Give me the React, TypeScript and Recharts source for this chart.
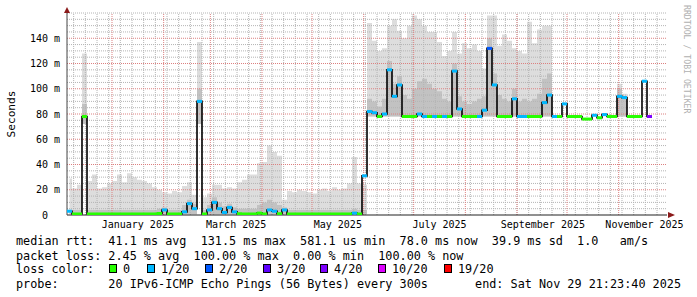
import React from 'react';
import { ComposedChart, Area, Line, Scatter, XAxis, YAxis, ReferenceLine, ReferenceDot } from 'recharts';

const MONO = '"DejaVu Sans Mono", monospace';

// 3-day buckets, x = bucket centre in days since 1 Jan 2025
const startDay = -25.5;
const stepDays = 3;

// median rtt per bucket (ms)
const median = [
  3, 0.8, 0.8, 78, 0.8, 0.8, 0.8, 0.8, 0.8, 0.8,
  0.8, 0.8, 0.8, 0.8, 0.8, 0.8, 0.8, 0.8, 1.2, 4,
  0.8, 0.8, 0.8, 2.5, 9, 5, 90, 0.8, 4, 10,
  5, 2, 6, 2.5, 1, 0.8, 0.8, 0.8, 1.5, 0.8,
  4, 3, 1, 4, 0.8, 0.8, 0.8, 0.8, 0.8, 0.8,
  0.8, 0.8, 0.8, 0.8, 0.8, 0.8, 0.8, 1.5, 0.8, 31,
  82, 81, 78, 80, 115, 94, 103, 78, 78, 78,
  80, 78, 78, 78, 78, 78, 78, 114, 84, 78,
  78, 78, 78, 83, 132, 103, 78, 78, 78, 92,
  78, 78, 78, 78, 78, 89, 95, 78, 78, 88,
  78, 78, 78, 76, 76, 79, 77, 79.5, 78, 78,
  94, 93, 78, 78, 78, 106, 78,
];

// loss bucket per sample (index into lossLabels)
const loss = [
  1, 0, 0, 0, 0, 0, 0, 0, 0, 0,
  0, 0, 0, 0, 0, 0, 0, 0, 0, 1,
  0, 0, 0, 1, 1, 1, 1, 0, 1, 1,
  1, 1, 1, 1, 0, 0, 0, 0, 0, 0,
  1, 1, 0, 1, 0, 0, 0, 0, 0, 0,
  0, 0, 0, 0, 0, 0, 0, 1, 0, 1,
  1, 1, 0, 1, 1, 1, 1, 0, 0, 0,
  1, 1, 0, 1, 0, 1, 0, 1, 1, 0,
  0, 0, 1, 1, 2, 1, 0, 0, 0, 1,
  1, 1, 0, 0, 0, 1, 1, 1, 0, 1,
  0, 0, 0, 0, 0, 1, 0, 1, 0, 0,
  1, 1, 0, 0, 0, 1, 4,
];

// smoke: lowest ping, upper edge of the dense part, highest ping (ms)
const smokeLo = [
  0.6, 0.6, 0.6, 72, 0.6, 0.6, 0.6, 0.6, 0.6, 0.6,
  0.6, 0.6, 0.6, 0.6, 0.6, 0.6, 0.6, 0.6, 0.6, 0.6,
  0.6, 0.6, 0.6, 0.6, 0.6, 0.6, 72, 0.6, 0.6, 0.6,
  0.6, 0.6, 0.6, 0.6, 0.6, 0.6, 0.6, 0.6, 0.6, 0.6,
  0.6, 0.6, 0.6, 0.6, 0.6, 0.6, 0.6, 0.6, 0.6, 0.6,
  0.6, 0.6, 0.6, 0.6, 0.6, 0.6, 0.6, 0.6, 0.6, 0.6,
  78, 78, 78, 78, 78, 78, 78, 78, 78, 78,
  78, 78, 78, 78, 78, 78, 78, 78, 78, 78,
  78, 78, 78, 78, 78, 78, 78, 78, 78, 78,
  78, 78, 78, 78, 78, 78, 78, 78, 78, 78,
  78, 78, 78, 78, 78, 78, 78, 78, 78, 78,
  78, 78, 78, 78, 78, 78, 78,
];

const smokeMid = [
  4, 4, 4, 88, 4, 4, 4, 4, 4, 4,
  4, 4, 4, 4, 4, 4, 4, 4, 5, 6,
  4, 4, 4, 8, 12, 9, 100, 4, 8, 14,
  10, 7, 9, 6, 5, 5, 5, 5, 8, 10,
  12, 10, 8, 6, 4, 4, 4, 4, 4, 4,
  4, 4, 4, 4, 4, 4, 4, 5, 4, 4,
  92, 90, 86, 92, 122, 104, 110, 95, 92, 100,
  106, 108, 104, 100, 98, 92, 90, 120, 94, 90,
  88, 90, 92, 94, 140, 112, 95, 92, 90, 100,
  90, 92, 90, 92, 96, 108, 112, 78, 78, 78,
  78, 78, 78, 78, 78, 78, 78, 78, 78, 78,
  100, 94, 78, 78, 78, 78, 78,
];

const smokeHi = [
  29, 21, 24, 128, 27, 32, 21, 22, 25, 27,
  32, 26, 33, 30, 28, 27, 25, 22, 20, 18,
  17, 19, 18, 23, 26, 16, 137, 14, 17, 24,
  24, 21, 22, 21, 26, 28, 32, 32, 41, 42,
  55, 50, 47, 12, 19, 18, 20, 19, 18, 17,
  20, 21, 19, 22, 20, 21, 25, 46, 25, 24,
  152, 138, 130, 132, 150, 155, 146, 140, 150, 158,
  155, 150, 145, 145, 137, 126, 130, 145, 128, 136,
  132, 135, 130, 116, 158, 158, 134, 143, 138, 132,
  130, 128, 153, 136, 147, 150, 150, 78, 78, 78,
  78, 78, 78, 78, 78, 78, 78, 78, 78, 78,
  104, 96, 78, 78, 78, 78, 78,
];

const lossLabels = ['0', '1/20', '2/20', '3/20', '4/20', '10/20', '19/20'];
const lossColors = ['#26ff00', '#00b8ff', '#0059ff', '#5e00ff', '#7e00ff', '#dd00ff', '#ff0000'];

const monthStarts = [0, 31, 59, 90, 120, 151, 181, 212, 243, 273, 304];
const monthLabels = ['January 2025', 'March 2025', 'May 2025', 'July 2025', 'September 2025', 'November 2025'];
const labelDays = [15.5, 74.5, 135.5, 196.5, 258.5, 319.5];
const yTicks = [0, 20, 40, 60, 80, 100, 120, 140];
const yMinor = [5, 10, 15, 25, 30, 35, 45, 50, 55, 65, 70, 75, 85, 90, 95, 105, 110, 115, 125, 130, 135, 145, 150, 155, 160];
const mondays = Array.from({ length: 51 }, (_, k) => -23 + 7 * k);

const data = median.map((m, i) => ({
  x: startDay + stepDays * i,
  med: m,
  loss: loss[i],
  outer: [smokeLo[i], smokeHi[i]],
  inner: [smokeLo[i], smokeMid[i]],
}));

const legendBoxX = [109, 147, 205, 263, 320, 378, 444];
const legendTextX = [123, 161, 219, 277, 334, 392, 458];

const XTick = (p: any) => (
  <text x={p.x} y={p.y + 12.5} textAnchor="middle" fontFamily={MONO} fontSize={10} fill="#000">
    {monthLabels[p.index]}
  </text>
);

const YTick = (p: any) => {
  const v = p.payload.value;
  return v === 0 ? (
    <text x={p.x - 25} y={p.y + 3.6} textAnchor="start" fontFamily={MONO} fontSize={10} fill="#000">0</text>
  ) : (
    <text x={p.x - 7} y={p.y + 3.6} textAnchor="end" fontFamily={MONO} fontSize={10} fill="#000" style={{ whiteSpace: 'pre' }}>
      {`${v} m`}
    </text>
  );
};

const Dash = (p: any) => (
  <rect x={p.cx - 2.5} y={p.cy - 1.5} width={5} height={3} fill={lossColors[p.payload.loss]} />
);

export default function App() {
  const txt = { fontFamily: MONO, fontSize: 11.8, fill: '#000', style: { whiteSpace: 'pre' as const } };
  return (
    <div style={{ position: 'absolute', left: 0, top: 0, width: 697, height: 297, background: '#fff' }}>
      <ComposedChart width={697} height={297} data={data} margin={{ top: 13, right: 30, bottom: 62, left: 0 }}>
        <XAxis
          type="number"
          dataKey="x"
          domain={[-27, 333]}
          ticks={labelDays}
          interval={0}
          tickSize={0}
          tickMargin={0}
          tickLine={false}
          axisLine={{ stroke: '#222' }}
          tick={XTick}
          height={20}
          allowDataOverflow
        />
        <YAxis
          type="number"
          domain={[0, 160]}
          ticks={yTicks}
          interval={0}
          tickSize={0}
          tickMargin={0}
          tickLine={false}
          axisLine={{ stroke: '#444' }}
          tick={YTick}
          width={67}
          allowDataOverflow
        />
        <Area type="step" dataKey="outer" stroke="none" fill="#dddddd" fillOpacity={1} isAnimationActive={false} />
        <Area type="step" dataKey="inner" stroke="none" fill="#c2c2c2" fillOpacity={1} isAnimationActive={false} />
        {yMinor.map((v) => (
          <ReferenceLine key={`ym${v}`} y={v} stroke="#b4b4b4" strokeDasharray="1 1" />
        ))}
        {mondays.map((d) => (
          <ReferenceLine key={`w${d}`} x={d} stroke="#b4b4b4" strokeDasharray="1 1" />
        ))}
        {yTicks.filter((v) => v > 0).map((v) => (
          <ReferenceLine key={`yM${v}`} y={v} stroke="#dc8080" strokeDasharray="1 1" />
        ))}
        {monthStarts.map((d) => (
          <ReferenceLine key={`m${d}`} x={d} stroke="#dc8080" strokeDasharray="1 1" />
        ))}
        <Line type="step" dataKey="med" stroke="#000" strokeWidth={1.6} dot={false} isAnimationActive={false} />
        <Scatter dataKey="med" shape={Dash} isAnimationActive={false} />
        <ReferenceDot
          x={333}
          y={0}
          r={0}
          ifOverflow="visible"
          shape={(p: any) => <path d={`M${p.cx + 1} ${p.cy - 3} L${p.cx + 8} ${p.cy} L${p.cx + 1} ${p.cy + 3} Z`} fill="#8b1a1a" />}
        />
        <ReferenceDot
          x={-27}
          y={160}
          r={0}
          ifOverflow="visible"
          shape={(p: any) => <path d={`M${p.cx - 3} ${p.cy} L${p.cx} ${p.cy - 6} L${p.cx + 3} ${p.cy} Z`} fill="#8b1a1a" />}
        />
      </ComposedChart>

      <svg width={697} height={297} style={{ position: 'absolute', left: 0, top: 0, pointerEvents: 'none' }}>
        <text transform="translate(15,114) rotate(-90)" textAnchor="middle" fontFamily={MONO} fontSize={11.2} fill="#000">
          Seconds
        </text>
        <text transform="translate(684,5) rotate(90)" fontFamily={MONO} fontSize={8.2} fill="#b0b0b0">
          RRDTOOL / TOBI OETIKER
        </text>
        <text x={16} y={245} {...txt}>
          {'median rtt:  41.1 ms avg  131.5 ms max  581.1 us min  78.0 ms now  39.9 ms sd  1.0   am/s'}
        </text>
        <text x={16} y={259.5} {...txt}>
          {'packet loss: 2.45 % avg  100.00 % max  0.00 % min  100.00 % now'}
        </text>
        <text x={16} y={273} {...txt}>
          {'loss color:'}
        </text>
        {lossLabels.map((l, i) => (
          <g key={l}>
            <rect x={legendBoxX[i] + 0.5} y={264.5} width={7} height={8} fill={lossColors[i]} stroke="#000" strokeWidth={1} />
            <text x={legendTextX[i]} y={273} {...txt}>
              {l}
            </text>
          </g>
        ))}
        <text x={16} y={287.5} {...txt}>
          {'probe:       20 IPv6-ICMP Echo Pings (56 Bytes) every 300s'}
        </text>
        <text x={681} y={287.5} textAnchor="end" {...txt}>
          {'end: Sat Nov 29 21:23:40 2025'}
        </text>
      </svg>
    </div>
  );
}
